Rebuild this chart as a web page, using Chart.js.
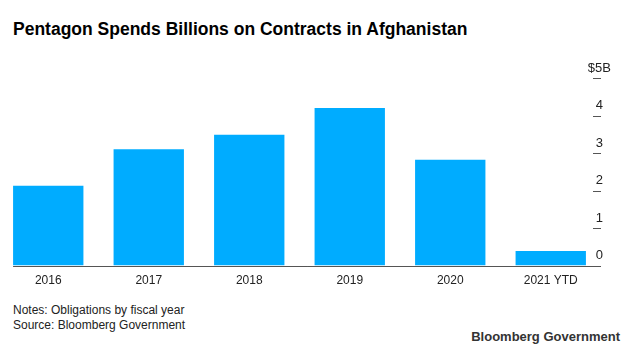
<!DOCTYPE html>
<html>
<head>
<meta charset="utf-8">
<script src="https://cdn.jsdelivr.net/npm/chart.js@4/dist/chart.umd.min.js"></script>
<style>
  body { margin: 0; background: #fff; font-family: "Liberation Sans", Arial, sans-serif; }
  #wrap { position: relative; width: 633px; height: 346px; overflow: hidden; }
  #title { position: absolute; left: 13px; top: 19px; font-size: 17.5px; font-weight: bold; color: #000; white-space: nowrap; }
  #chartBox { position: absolute; left: -2px; top: 40px; width: 635px; height: 256px; }
  #notes { position: absolute; left: 13px; top: 303px; font-size: 12px; line-height: 15px; color: #222; }
  #brand { position: absolute; right: 13px; top: 329px; font-size: 13px; font-weight: bold; color: #333; }
</style>
</head>
<body>
<div id="wrap">
  <div id="title">Pentagon Spends Billions on Contracts in Afghanistan</div>
  <div id="chartBox"><canvas id="bars"></canvas></div>
  <div id="notes">Notes: Obligations by fiscal year<br>Source: Bloomberg Government</div>
  <div id="brand">Bloomberg Government</div>
</div>
<script>
// fiscal years and contract obligations, $ billions
var years = ["2016", "2017", "2018", "2019", "2020", "2021 YTD"];
var spending = [2.13, 3.10, 3.49, 4.20, 2.82, 0.39];
var yTicks = [0, 1, 2, 3, 4, 5];

// baseline under the bars plus the short dashes for each y tick
var axisMarks = {
    id: "axisMarks",
    afterDatasetsDraw: function(chart) {
        var ctx = chart.ctx;
        var y = chart.scales.y;
        var area = chart.chartArea;
        var first = chart.getDatasetMeta(0).data[0];
        ctx.save();
        ctx.strokeStyle = "#555";
        ctx.lineWidth = 1;
        y.ticks.forEach(function(t, i) {
            var py = Math.round(y.getPixelForTick(i)) + 0.5;
            ctx.beginPath();
            if (t.value === 0) {
                ctx.moveTo(first.x - first.width / 2, py);
            } else {
                ctx.moveTo(area.right - 8, py);
            }
            ctx.lineTo(area.right, py);
            ctx.stroke();
        });
        ctx.restore();
    }
};

var ctx = document.getElementById("bars").getContext("2d");
new Chart(ctx, {
    type: "bar",
    data: {
        labels: years,
        datasets: [{
            data: spending,
            backgroundColor: "#00acff",
            borderWidth: 0,
            categoryPercentage: 1,
            barPercentage: 0.7
        }]
    },
    options: {
        responsive: true,
        maintainAspectRatio: false,
        animation: false,
        layout: { padding: { top: 38, right: 12, left: 0, bottom: 0 } },
        plugins: { legend: { display: false }, tooltip: { enabled: false } },
        scales: {
            x: {
                grid: { display: false, drawTicks: false },
                border: { display: false },
                ticks: {
                    color: "#222",
                    padding: 8,
                    font: { family: "Liberation Sans", size: 12 }
                }
            },
            y: {
                position: "right",
                min: 0,
                max: 5,
                grid: { display: false, drawTicks: false },
                border: { display: false },
                afterBuildTicks: function(scale) {
                    scale.ticks = yTicks.map(function(v) { return { value: v }; });
                },
                ticks: {
                    color: "#222",
                    mirror: true,
                    padding: 10,
                    crossAlign: "center",
                    labelOffset: -10,
                    font: { family: "Liberation Sans", size: 13 },
                    callback: function(v) { return v === 5 ? "$5B" : v; }
                }
            }
        }
    },
    plugins: [axisMarks]
});
</script>
</body>
</html>
